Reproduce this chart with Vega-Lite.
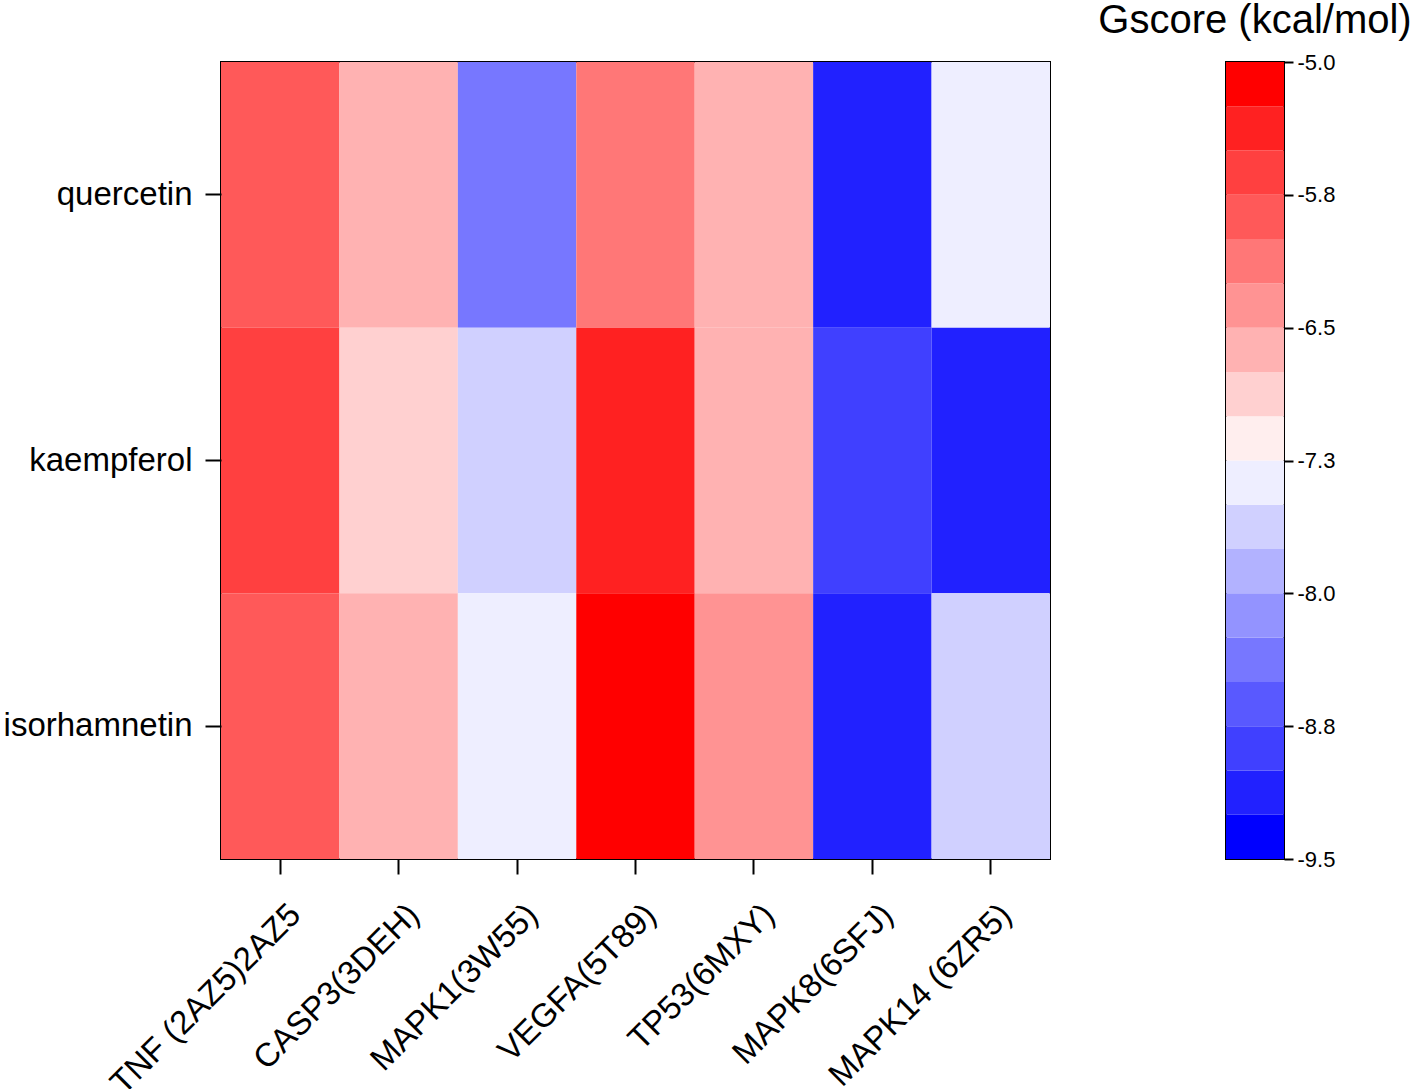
{
  "$schema": "https://vega.github.io/schema/vega-lite/v6.json",
  "autosize": {"type": "pad"},
  "padding": {"left": 2, "top": 0, "right": 0, "bottom": 0},
  "background": "white",
  "spacing": 46,
  "config": {
    "font": "Liberation Sans",
    "view": {"stroke": "black", "strokeWidth": 2}
  },
  "datasets": {
    "heat": [
      {"compound": "quercetin", "target": "TNF (2AZ5)2AZ5", "gscore": -5.88},
      {"compound": "quercetin", "target": "CASP3(3DEH)", "gscore": -6.63},
      {"compound": "quercetin", "target": "MAPK1(3W55)", "gscore": -8.38},
      {"compound": "quercetin", "target": "VEGFA(5T89)", "gscore": -6.13},
      {"compound": "quercetin", "target": "TP53(6MXY)", "gscore": -6.63},
      {"compound": "quercetin", "target": "MAPK8(6SFJ)", "gscore": -9.13},
      {"compound": "quercetin", "target": "MAPK14 (6ZR5)", "gscore": -7.38},
      {"compound": "kaempferol", "target": "TNF (2AZ5)2AZ5", "gscore": -5.63},
      {"compound": "kaempferol", "target": "CASP3(3DEH)", "gscore": -6.88},
      {"compound": "kaempferol", "target": "MAPK1(3W55)", "gscore": -7.63},
      {"compound": "kaempferol", "target": "VEGFA(5T89)", "gscore": -5.38},
      {"compound": "kaempferol", "target": "TP53(6MXY)", "gscore": -6.63},
      {"compound": "kaempferol", "target": "MAPK8(6SFJ)", "gscore": -8.88},
      {"compound": "kaempferol", "target": "MAPK14 (6ZR5)", "gscore": -9.13},
      {"compound": "isorhamnetin", "target": "TNF (2AZ5)2AZ5", "gscore": -5.88},
      {"compound": "isorhamnetin", "target": "CASP3(3DEH)", "gscore": -6.63},
      {"compound": "isorhamnetin", "target": "MAPK1(3W55)", "gscore": -7.38},
      {"compound": "isorhamnetin", "target": "VEGFA(5T89)", "gscore": -5.13},
      {"compound": "isorhamnetin", "target": "TP53(6MXY)", "gscore": -6.38},
      {"compound": "isorhamnetin", "target": "MAPK8(6SFJ)", "gscore": -9.13},
      {"compound": "isorhamnetin", "target": "MAPK14 (6ZR5)", "gscore": -7.63}
    ],
    "bins": [
      {"lo": -9.5, "hi": -9.25, "gscore": -9.375},
      {"lo": -9.25, "hi": -9.0, "gscore": -9.125},
      {"lo": -9.0, "hi": -8.75, "gscore": -8.875},
      {"lo": -8.75, "hi": -8.5, "gscore": -8.625},
      {"lo": -8.5, "hi": -8.25, "gscore": -8.375},
      {"lo": -8.25, "hi": -8.0, "gscore": -8.125},
      {"lo": -8.0, "hi": -7.75, "gscore": -7.875},
      {"lo": -7.75, "hi": -7.5, "gscore": -7.625},
      {"lo": -7.5, "hi": -7.25, "gscore": -7.375},
      {"lo": -7.25, "hi": -7.0, "gscore": -7.125},
      {"lo": -7.0, "hi": -6.75, "gscore": -6.875},
      {"lo": -6.75, "hi": -6.5, "gscore": -6.625},
      {"lo": -6.5, "hi": -6.25, "gscore": -6.375},
      {"lo": -6.25, "hi": -6.0, "gscore": -6.125},
      {"lo": -6.0, "hi": -5.75, "gscore": -5.875},
      {"lo": -5.75, "hi": -5.5, "gscore": -5.625},
      {"lo": -5.5, "hi": -5.25, "gscore": -5.375},
      {"lo": -5.25, "hi": -5.0, "gscore": -5.125}
    ]
  },
  "resolve": {"scale": {"color": "independent"}},
  "hconcat": [
    {
      "width": 829,
      "height": 797,
      "data": {"name": "heat"},
      "mark": {"type": "rect"},
      "encoding": {
        "x": {
          "field": "target",
          "type": "nominal",
          "sort": ["TNF (2AZ5)2AZ5", "CASP3(3DEH)", "MAPK1(3W55)", "VEGFA(5T89)", "TP53(6MXY)", "MAPK8(6SFJ)", "MAPK14 (6ZR5)"],
          "scale": {"paddingInner": 0, "paddingOuter": 0},
          "axis": {
            "title": null,
            "labelAngle": -45,
            "labelAlign": "right",
            "labelBaseline": "top",
            "labelFontSize": 33,
            "labelColor": "black",
            "labelPadding": 24,
            "labelOffset": 4,
            "labelLimit": 400,
            "tickColor": "black",
            "tickWidth": 2,
            "tickSize": 15,
            "domain": false
          }
        },
        "y": {
          "field": "compound",
          "type": "nominal",
          "sort": ["quercetin", "kaempferol", "isorhamnetin"],
          "scale": {"paddingInner": 0, "paddingOuter": 0},
          "axis": {
            "title": null,
            "labelFontSize": 33,
            "labelColor": "black",
            "labelPadding": 13,
            "labelLimit": 400,
            "tickColor": "black",
            "tickWidth": 2,
            "tickSize": 16,
            "domain": false
          }
        },
        "color": {
          "field": "gscore",
          "type": "quantitative",
          "scale": {
            "type": "quantize",
            "domain": [-9.5, -5.0],
            "range": ["#0000ff", "#2121ff", "#4040ff", "#5959ff", "#7777ff", "#9393ff", "#b2b2ff", "#d0d0ff", "#eeeeff", "#ffeeee", "#ffd0d0", "#ffb2b2", "#ff9393", "#ff7777", "#ff5959", "#ff4040", "#ff2121", "#ff0000"]
          },
          "legend": null
        }
      }
    },
    {
      "width": 58,
      "height": 797,
      "title": {
        "text": "Gscore (kcal/mol)",
        "anchor": "middle",
        "offset": 10,
        "fontSize": 40,
        "fontWeight": "normal",
        "color": "black"
      },
      "data": {"name": "bins"},
      "mark": {"type": "rect"},
      "encoding": {
        "y": {
          "field": "lo",
          "type": "quantitative",
          "scale": {"domain": [-9.5, -5.0], "nice": false, "zero": false},
          "axis": {
            "title": null,
            "orient": "right",
            "values": [-9.5, -8.75, -8.0, -7.25, -6.5, -5.75, -5.0],
            "labelExpr": "replace(format(datum.value, '.1f'), '\u2212', '-')",
            "labelFontSize": 22,
            "labelColor": "black",
            "labelPadding": 4,
            "labelFlush": false,
            "labelOverlap": false,
            "tickColor": "black",
            "tickWidth": 2,
            "tickSize": 9,
            "domain": false,
            "grid": false
          }
        },
        "y2": {"field": "hi"},
        "color": {
          "field": "gscore",
          "type": "quantitative",
          "scale": {
            "type": "quantize",
            "domain": [-9.5, -5.0],
            "range": ["#0000ff", "#2121ff", "#4040ff", "#5959ff", "#7777ff", "#9393ff", "#b2b2ff", "#d0d0ff", "#eeeeff", "#ffeeee", "#ffd0d0", "#ffb2b2", "#ff9393", "#ff7777", "#ff5959", "#ff4040", "#ff2121", "#ff0000"]
          },
          "legend": null
        }
      }
    }
  ]
}
